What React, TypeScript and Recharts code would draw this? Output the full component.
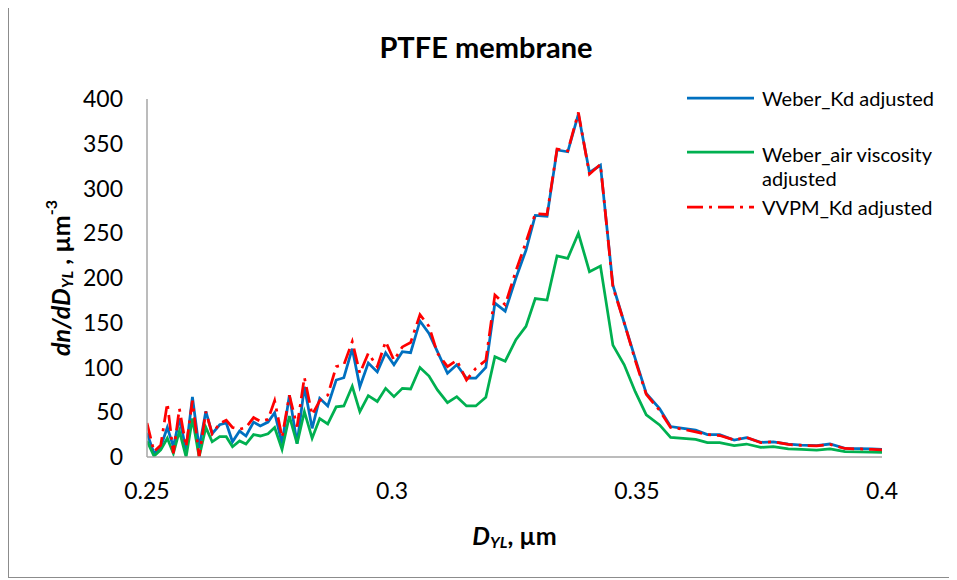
import React from 'react';
import { LineChart, Line, XAxis, YAxis, Legend } from 'recharts';

// Particle diameter D_YL (µm)
const diameters = [
  0.25, 0.25143, 0.2528, 0.25415, 0.25538, 0.25661, 0.25798, 0.25927, 0.26064, 0.26201,
  0.2633, 0.26484, 0.26617, 0.26745, 0.26889, 0.2702, 0.27175, 0.27312, 0.2747, 0.27605,
  0.27756, 0.27906, 0.28063, 0.28212, 0.2837, 0.28525, 0.28689, 0.28861, 0.29017, 0.29189,
  0.29344, 0.29516, 0.297, 0.2987, 0.3004, 0.30211, 0.3038, 0.30571, 0.30755, 0.30927,
  0.31132, 0.31322, 0.3152, 0.3171, 0.31915, 0.321, 0.3231, 0.32529, 0.32734, 0.32924,
  0.33164, 0.33368, 0.33587, 0.33804, 0.3403, 0.34254, 0.34508, 0.34739, 0.34964, 0.35189,
  0.35461, 0.35686, 0.3594, 0.36197, 0.36437, 0.36688, 0.36983, 0.37234, 0.37527, 0.37781,
  0.38088, 0.3836, 0.38667, 0.38939, 0.39245, 0.39525, 0.39791, 0.4,
];

const weberKd = [
  27, 4, 11.5, 33, 11.5, 43, 8, 67, 10, 51,
  26, 36, 38, 17, 29, 23.5, 39, 34.6, 39, 49.5,
  15, 69, 15, 78.5, 32, 65.6, 57, 86, 88.6, 121,
  78.5, 105, 95, 116.5, 103, 117.7, 116.5, 152, 138, 117.7,
  93.5, 103, 88, 88, 100, 172, 163, 200, 231, 270,
  269, 343, 341, 383, 318, 326, 192, 150, 110, 71,
  54, 34, 32, 30, 25, 25, 19, 21.6, 16.4, 17,
  14.5, 13.4, 12.7, 14.5, 9.7, 9.3, 9, 8.6,
];

const weberAir = [
  18, 1, 8, 21, 4, 29, 0, 43, 0, 33,
  17, 22.7, 22.7, 11.5, 18, 14.5, 25, 23.5, 26, 33,
  8.6, 45.8, 15, 50.6, 21, 43, 37, 56, 57, 79,
  50.6, 68.5, 62, 76.7, 67.4, 76.7, 76, 100, 90.5, 75,
  60.7, 67.4, 57, 57, 66.7, 112, 107, 131, 146, 177,
  175.4, 224.6, 222, 250, 207, 213.4, 125, 103, 73, 47,
  35.8, 22, 20.8, 19.7, 16, 16, 12.7, 14.5, 10.8, 11.5,
  9, 8.6, 7.8, 9, 6, 5.8, 5.5, 5.2,
];

const vvpmKd = [
  38, 6, 13, 60, 4, 54, 11.5, 63, 0, 50.6,
  26, 37.6, 41, 33, 31, 33, 44, 40, 42, 63,
  22, 69, 34, 89, 47, 63, 69, 101, 103, 129,
  93.5, 116, 101, 129, 108, 123, 128, 159, 146, 116,
  101, 108, 86, 99, 108, 181, 170, 208, 240, 272,
  271, 344, 342, 385, 316, 327, 190, 150, 108, 70,
  52, 33, 31, 28, 25, 24, 19, 22, 16, 17,
  14, 13, 12.5, 14, 9.5, 9, 8.5, 8,
];

const xTicks = [0.25, 0.3, 0.35, 0.4];
const yTicks = [0, 50, 100, 150, 200, 250, 300, 350, 400];

const seriesKeys = ['weberKd', 'weberAir', 'vvpmKd'];
const seriesNames = ['Weber_Kd adjusted', 'Weber_air viscosity adjusted', 'VVPM_Kd adjusted'];
const seriesColors = ['#0070C0', '#00B050', '#FF0000'];
const seriesDash = [undefined, undefined, '16 6 3 6'];

const chartTitle = 'PTFE membrane';

const data = diameters.map((d, i) => ({
  d,
  weberKd: weberKd[i],
  weberAir: weberAir[i],
  vvpmKd: vvpmKd[i],
}));

const FONT = "Lato, 'Open Sans', 'DejaVu Sans', sans-serif";

const legendRows = [
  { line: 20, textTop: 8 },
  { line: 74, textTop: 64 },
  { line: 129, textTop: 117 },
];

const LegendContent = () => (
  <div style={{ position: 'relative', width: 280, height: 150, fontFamily: FONT, fontSize: 20, color: '#000' }}>
    {seriesNames.map((name, i) => (
      <React.Fragment key={name}>
        <svg
          width={70}
          height={6}
          style={{ position: 'absolute', left: 9, top: legendRows[i].line - 3 }}
        >
          <line
            x1={0}
            y1={3}
            x2={67}
            y2={3}
            stroke={seriesColors[i]}
            strokeWidth={2.75}
            strokeDasharray={seriesDash[i]}
          />
        </svg>
        <div
          style={{
            position: 'absolute',
            left: 84,
            top: legendRows[i].textTop,
            width: 190,
            lineHeight: '24px',
            whiteSpace: 'normal',
          }}
        >
          {name}
        </div>
      </React.Fragment>
    ))}
  </div>
);

const YLabel = (props: any) => {
  const vb = props.viewBox || { x: 78, y: 91, width: 60, height: 358 };
  const cx = vb.x - 27;
  const cy = vb.y + vb.height / 2;
  return (
    <text
      x={cx}
      y={cy}
      transform={`rotate(-90 ${cx} ${cy})`}
      textAnchor="middle"
      dominantBaseline="central"
      fontFamily={FONT}
      fontSize={25}
      fontWeight="bold"
      fill="#000"
    >
      <tspan fontStyle="italic">dn/dD</tspan>
      <tspan fontStyle="italic" fontSize={16} dy={6}>YL</tspan>
      <tspan dy={-6}> , µm</tspan>
      <tspan fontSize={16} dy={-10}>-3</tspan>
    </text>
  );
};

const XLabel = (props: any) => {
  const vb = props.viewBox || { x: 138, y: 449, width: 735, height: 40 };
  const cx = vb.x + vb.width / 2;
  const cy = vb.y + 78;
  return (
    <text
      x={cx}
      y={cy}
      textAnchor="middle"
      dominantBaseline="central"
      fontFamily={FONT}
      fontSize={25}
      fontWeight="bold"
      fill="#000"
    >
      <tspan fontStyle="italic">D</tspan>
      <tspan fontStyle="italic" fontSize={16} dy={6}>YL</tspan>
      <tspan dy={-6}>, µm</tspan>
    </text>
  );
};

export default function App() {
  return (
    <div
      style={{
        position: 'relative',
        width: 949,
        height: 569,
        borderLeft: '1px solid #8c8c8c',
        borderBottom: '1px solid #8c8c8c',
        background: '#fff',
      }}
    >
      <div
        style={{
          position: 'absolute',
          left: 277,
          top: 22,
          width: 400,
          textAlign: 'center',
          fontFamily: FONT,
          fontSize: 29,
          fontWeight: 'bold',
          lineHeight: '34px',
          color: '#000',
          zIndex: 2,
        }}
      >
        {chartTitle}
      </div>
      <LineChart
        width={948}
        height={569}
        data={data}
        margin={{ top: 91, right: 75, bottom: 80, left: 78 }}
      >
        <XAxis
          type="number"
          dataKey="d"
          domain={[0.25, 0.4]}
          ticks={xTicks}
          allowDataOverflow
          tickLine={false}
          tickSize={0}
          tickMargin={26}
          height={40}
          axisLine={{ stroke: '#a6a6a6', strokeWidth: 1.5 }}
          tick={{ fill: '#000', fontSize: 23, fontFamily: FONT }}
          tickFormatter={(v: number) => String(v)}
          label={<XLabel />}
        />
        <YAxis
          type="number"
          domain={[0, 400]}
          ticks={yTicks}
          allowDataOverflow
          width={60}
          tickLine={false}
          tickSize={0}
          tickMargin={24}
          axisLine={{ stroke: '#a6a6a6', strokeWidth: 1.5 }}
          tick={{ fill: '#000', fontSize: 23, fontFamily: FONT }}
          label={<YLabel />}
        />
        <Legend
          layout="vertical"
          align="center"
          verticalAlign="middle"
          content={<LegendContent />}
          wrapperStyle={{ left: 669, top: 70, width: 280, height: 150 }}
        />
        {seriesKeys.map((k, i) => (
          <Line
            key={k}
            type="linear"
            dataKey={k}
            name={seriesNames[i]}
            stroke={seriesColors[i]}
            strokeWidth={2.75}
            strokeDasharray={seriesDash[i]}
            dot={false}
            activeDot={false}
            isAnimationActive={false}
          />
        ))}
      </LineChart>
    </div>
  );
}
